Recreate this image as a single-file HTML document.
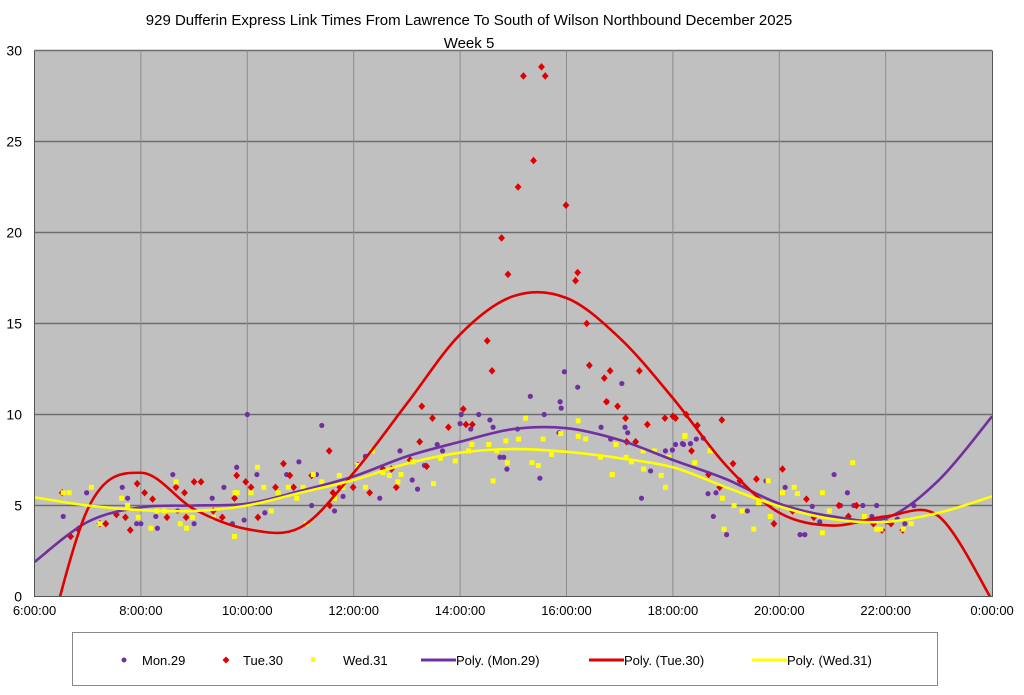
<!DOCTYPE html>
<html><head><meta charset="utf-8"><style>
body{margin:0;background:#fff;width:1024px;height:690px;overflow:hidden;font-family:"Liberation Sans",sans-serif}
svg text{font-family:"Liberation Sans",sans-serif}
</style></head><body>
<svg id="chart" width="1024" height="690">
<text x="469" y="25" text-anchor="middle" font-size="15">929 Dufferin Express Link Times From Lawrence To South of Wilson Northbound December 2025</text>
<text x="469" y="48" text-anchor="middle" font-size="15">Week 5</text>
<defs><clipPath id="pc"><rect x="34.5" y="50.5" width="957.5" height="546"/></clipPath></defs>
<rect x="34.5" y="50.5" width="957.5" height="546" fill="#c0c0c0"/>
<g id="grid"></g><g id="marks" clip-path="url(#pc)"></g><g id="axes"></g>
<g>
<rect x="72.5" y="632.5" width="865" height="53" fill="#fff" stroke="#888"/>
<circle cx="124" cy="660" r="2.5" fill="#7030a0"/><text x="142" y="665" font-size="13">Mon.29</text>
<path d="M226 656.5L229.5 660L226 663.5L222.5 660Z" fill="#e00000"/><text x="243" y="665" font-size="13">Tue.30</text>
<rect x="230" y="658" width="4" height="5" fill="#ffff00" transform="translate(81,-1)"/><text x="343" y="665" font-size="13">Wed.31</text>
<line x1="421" y1="660" x2="456" y2="660" stroke="#7030a0" stroke-width="3"/><text x="456" y="665" font-size="13">Poly. (Mon.29)</text>
<line x1="589" y1="660" x2="624" y2="660" stroke="#e00000" stroke-width="3"/><text x="624" y="665" font-size="13">Poly. (Tue.30)</text>
<line x1="752" y1="660" x2="787" y2="660" stroke="#ffff00" stroke-width="3"/><text x="787" y="665" font-size="13">Poly. (Wed.31)</text>
</g>
</svg>
<script>
const yTicks=[0,5,10,15,20,25,30];
const xTicks=[6,8,10,12,14,16,18,20,22,24];
const xTickLabels=["6:00:00","8:00:00","10:00:00","12:00:00","14:00:00","16:00:00","18:00:00","20:00:00","22:00:00","0:00:00"];
const monH=[6.54,6.98,7.65,7.75,7.92,8.0,8.28,8.31,8.6,8.69,9.0,9.34,9.56,9.72,9.8,9.94,10.0,10.18,10.33,10.74,10.97,11.21,11.3,11.4,11.64,11.8,12.22,12.49,12.87,13.1,13.2,13.33,13.57,13.67,14.0,14.02,14.2,14.35,14.56,14.62,14.75,14.82,14.88,15.08,15.32,15.5,15.58,15.86,15.88,15.9,15.96,16.21,16.65,16.76,16.83,17.04,17.1,17.15,17.41,17.58,17.86,18.05,18.2,18.44,18.66,17.99,18.18,18.33,18.57,18.76,18.81,19.01,19.4,19.75,20.11,20.39,20.48,20.62,20.76,21.03,21.15,21.28,21.4,21.57,21.74,21.83,22.02,22.22,22.36,22.53];
const monV=[4.4,5.7,6.0,5.4,4.0,4.0,4.4,3.75,6.7,4.7,4.0,5.4,6.0,4.0,7.1,4.2,10.0,6.7,4.6,6.7,7.4,5.0,6.7,9.4,4.7,5.5,7.7,5.4,8.0,6.4,5.9,7.2,8.35,8.0,9.5,10.0,9.2,10.0,9.7,9.3,7.65,7.65,7.0,9.2,11.0,6.5,10.0,9.0,10.7,10.35,12.35,11.5,9.3,10.7,8.65,11.7,9.3,9.0,5.4,6.9,8.0,8.35,8.35,8.65,5.65,8.05,8.4,8.4,8.7,4.4,5.7,3.4,4.7,6.35,6.0,3.4,3.4,4.95,4.1,6.7,5.0,5.7,5.0,5.0,4.4,5.0,4.1,4.25,4.0,5.0];
const tueH=[6.52,6.68,6.82,7.23,7.34,7.54,7.71,7.8,7.93,8.07,8.22,8.49,8.66,8.82,8.85,9.0,9.13,9.36,9.53,9.76,9.8,9.97,10.07,10.2,10.53,10.68,10.8,10.87,11.21,11.54,11.55,11.61,11.74,11.99,12.08,12.3,12.55,12.71,12.8,13.06,13.24,13.28,13.37,13.48,13.78,14.06,14.11,14.23,14.51,14.6,14.78,14.9,15.09,15.19,15.38,15.53,15.6,15.99,16.17,16.21,16.38,16.43,16.71,16.82,16.75,16.96,17.11,17.13,17.3,17.37,17.52,17.85,18.0,18.05,18.25,18.35,18.46,18.67,18.88,18.92,19.13,19.26,19.57,19.9,20.06,20.25,20.51,20.65,21.12,21.3,21.45,21.77,21.93,22.1,22.32];
const tueV=[5.7,3.3,3.7,4.0,4.0,4.5,4.35,3.65,6.2,5.7,5.35,4.35,6.0,5.7,4.35,6.3,6.3,4.7,4.35,5.4,6.65,6.3,6.0,4.35,6.0,7.3,6.65,6.0,6.65,8.0,5.0,5.7,6.0,6.0,7.2,5.7,7.0,7.0,6.0,7.5,8.5,10.45,7.15,9.8,9.3,10.3,9.45,9.45,14.05,12.4,19.7,17.7,22.5,28.6,23.95,29.1,28.6,21.5,17.35,17.8,15.0,12.7,12.0,12.4,10.7,10.45,9.8,8.5,8.5,12.4,9.45,9.8,9.9,9.8,10.0,8.0,9.4,6.7,6.0,9.7,7.3,6.35,6.45,4.0,7.0,4.7,5.35,4.35,5.0,4.4,5.0,4.0,3.65,4.0,3.65];
const wedH=[6.54,6.65,7.07,7.23,7.64,7.75,7.95,8.19,8.3,8.44,8.66,8.74,8.86,8.97,9.36,9.76,9.77,9.81,10.07,10.19,10.31,10.45,10.58,10.77,10.93,11.05,11.11,11.24,11.4,11.64,11.73,11.8,12.08,12.22,12.35,12.67,12.83,12.55,12.89,13.11,13.5,13.63,13.91,14.16,14.22,14.54,14.62,14.69,14.86,14.89,15.1,15.23,15.35,15.47,15.56,15.72,15.89,16.22,16.22,16.36,16.64,16.86,16.93,17.12,17.22,17.44,17.45,17.65,17.78,17.86,17.92,18.22,18.7,18.23,18.41,18.71,18.93,18.96,19.15,19.3,19.52,19.61,19.79,19.83,20.06,20.28,20.34,20.81,20.81,20.94,21.38,21.6,21.83,21.91,22.33,22.48];
const wedV=[5.7,5.7,6.0,4.0,5.4,5.0,4.35,3.75,4.7,4.7,6.3,4.0,3.75,4.35,4.35,3.3,5.7,5.7,5.7,7.1,6.0,4.7,5.7,6.0,5.4,6.0,4.0,6.7,6.3,5.4,6.65,6.0,7.2,6.0,8.0,6.65,6.3,6.8,6.7,7.4,6.2,7.6,7.45,8.0,8.35,8.35,6.35,8.0,8.55,7.35,8.65,9.8,7.35,7.2,8.65,7.8,8.95,9.65,8.8,8.65,7.65,6.7,8.35,7.65,7.4,8.0,7.0,8.0,6.65,6.0,7.65,8.8,8.0,8.85,7.35,8.0,5.4,3.7,5.0,4.7,3.7,5.15,6.35,4.4,5.7,6.0,5.65,5.7,3.5,4.7,7.35,4.4,3.7,3.7,3.7,4.0];
const trendH=[6,7,8,9,10,11,12,13,14,15,16,17,18,19,20,21,22,23,24];
const monTrendV=[1.9,4.1,4.9,5.0,5.1,5.8,6.6,7.7,8.5,9.2,9.25,8.6,7.5,6.45,5.1,4.4,4.3,6.4,9.9];
const tueTrendV=[-5.5,4.8,6.8,4.8,3.7,3.8,6.8,10.6,14.4,16.5,16.4,14.2,10.9,7.2,4.6,3.9,4.4,4.4,-0.2];
const wedTrendV=[5.45,5.0,4.75,4.7,5.0,5.7,6.4,7.3,7.9,8.1,7.95,7.6,7.1,6.0,4.95,4.25,4.1,4.6,5.5];

const NS="http://www.w3.org/2000/svg";
const X=h=>34.5+(h-6)*53.2, Y=v=>596.5-v*18.2;
function mk(t,a,p){const e=document.createElementNS(NS,t);for(const k in a)e.setAttribute(k,a[k]);p.appendChild(e);return e;}
const grid=document.getElementById('grid'),marks=document.getElementById('marks'),axes=document.getElementById('axes');
yTicks.forEach(v=>{if(v>0){const l=mk('line',{x1:34.5,x2:992,y1:Y(v),y2:Y(v),stroke:'#6e6e6e','stroke-width':1.5},grid);

}
const t=mk('text',{x:22,y:Y(v)+5,'text-anchor':'end','font-size':14},axes);t.textContent=v;

});
xTicks.forEach((h,i)=>{if(i>0&&i<xTicks.length-1){const l=mk('line',{x1:X(h),x2:X(h),y1:50.5,y2:596.5,stroke:'#8c8c8c','stroke-width':1},grid);

}
const t=mk('text',{x:X(h),y:615,'text-anchor':'middle','font-size':13},axes);t.textContent=xTickLabels[i];

});
const ax=mk('path',{d:'M34.5 50.5V596.5H992.5V50.5',fill:'none',stroke:'#555','stroke-width':1},axes);


function pts(H,V,kind,col){H.forEach((h,i)=>{const x=X(h),y=Y(V[i]);let e;
if(kind==='c')e=mk('circle',{cx:x,cy:y,r:2.6,fill:col},marks);
else if(kind==='d')e=mk('path',{d:`M${x} ${y-3.8}L${x+3.4} ${y}L${x} ${y+3.8}L${x-3.4} ${y}Z`,fill:col},marks);
else e=mk('rect',{x:x-2.5,y:y-2.5,width:5,height:5,fill:col},marks);

});}
function curve(H,V,col,name){const P=H.map((h,i)=>[X(h),Y(V[i])]);let d=`M${P[0][0]} ${P[0][1]}`;
for(let i=0;i<P.length-1;i++){const p0=P[Math.max(0,i-1)],p1=P[i],p2=P[i+1],p3=P[Math.min(P.length-1,i+2)];
d+=`C${p1[0]+(p2[0]-p0[0])/6} ${p1[1]+(p2[1]-p0[1])/6},${p2[0]-(p3[0]-p1[0])/6} ${p2[1]-(p3[1]-p1[1])/6},${p2[0]} ${p2[1]}`;}
const e=mk('path',{d:d,fill:'none',stroke:col,'stroke-width':2.6},marks);

}
pts(monH,monV,'c','#7030a0');pts(tueH,tueV,'d','#e00000');pts(wedH,wedV,'s','#ffff00');
curve(trendH,monTrendV,'#7030a0','trend-mon29');curve(trendH,tueTrendV,'#e00000','trend-tue30');curve(trendH,wedTrendV,'#ffff00','trend-wed31');
</script>
</body></html>
